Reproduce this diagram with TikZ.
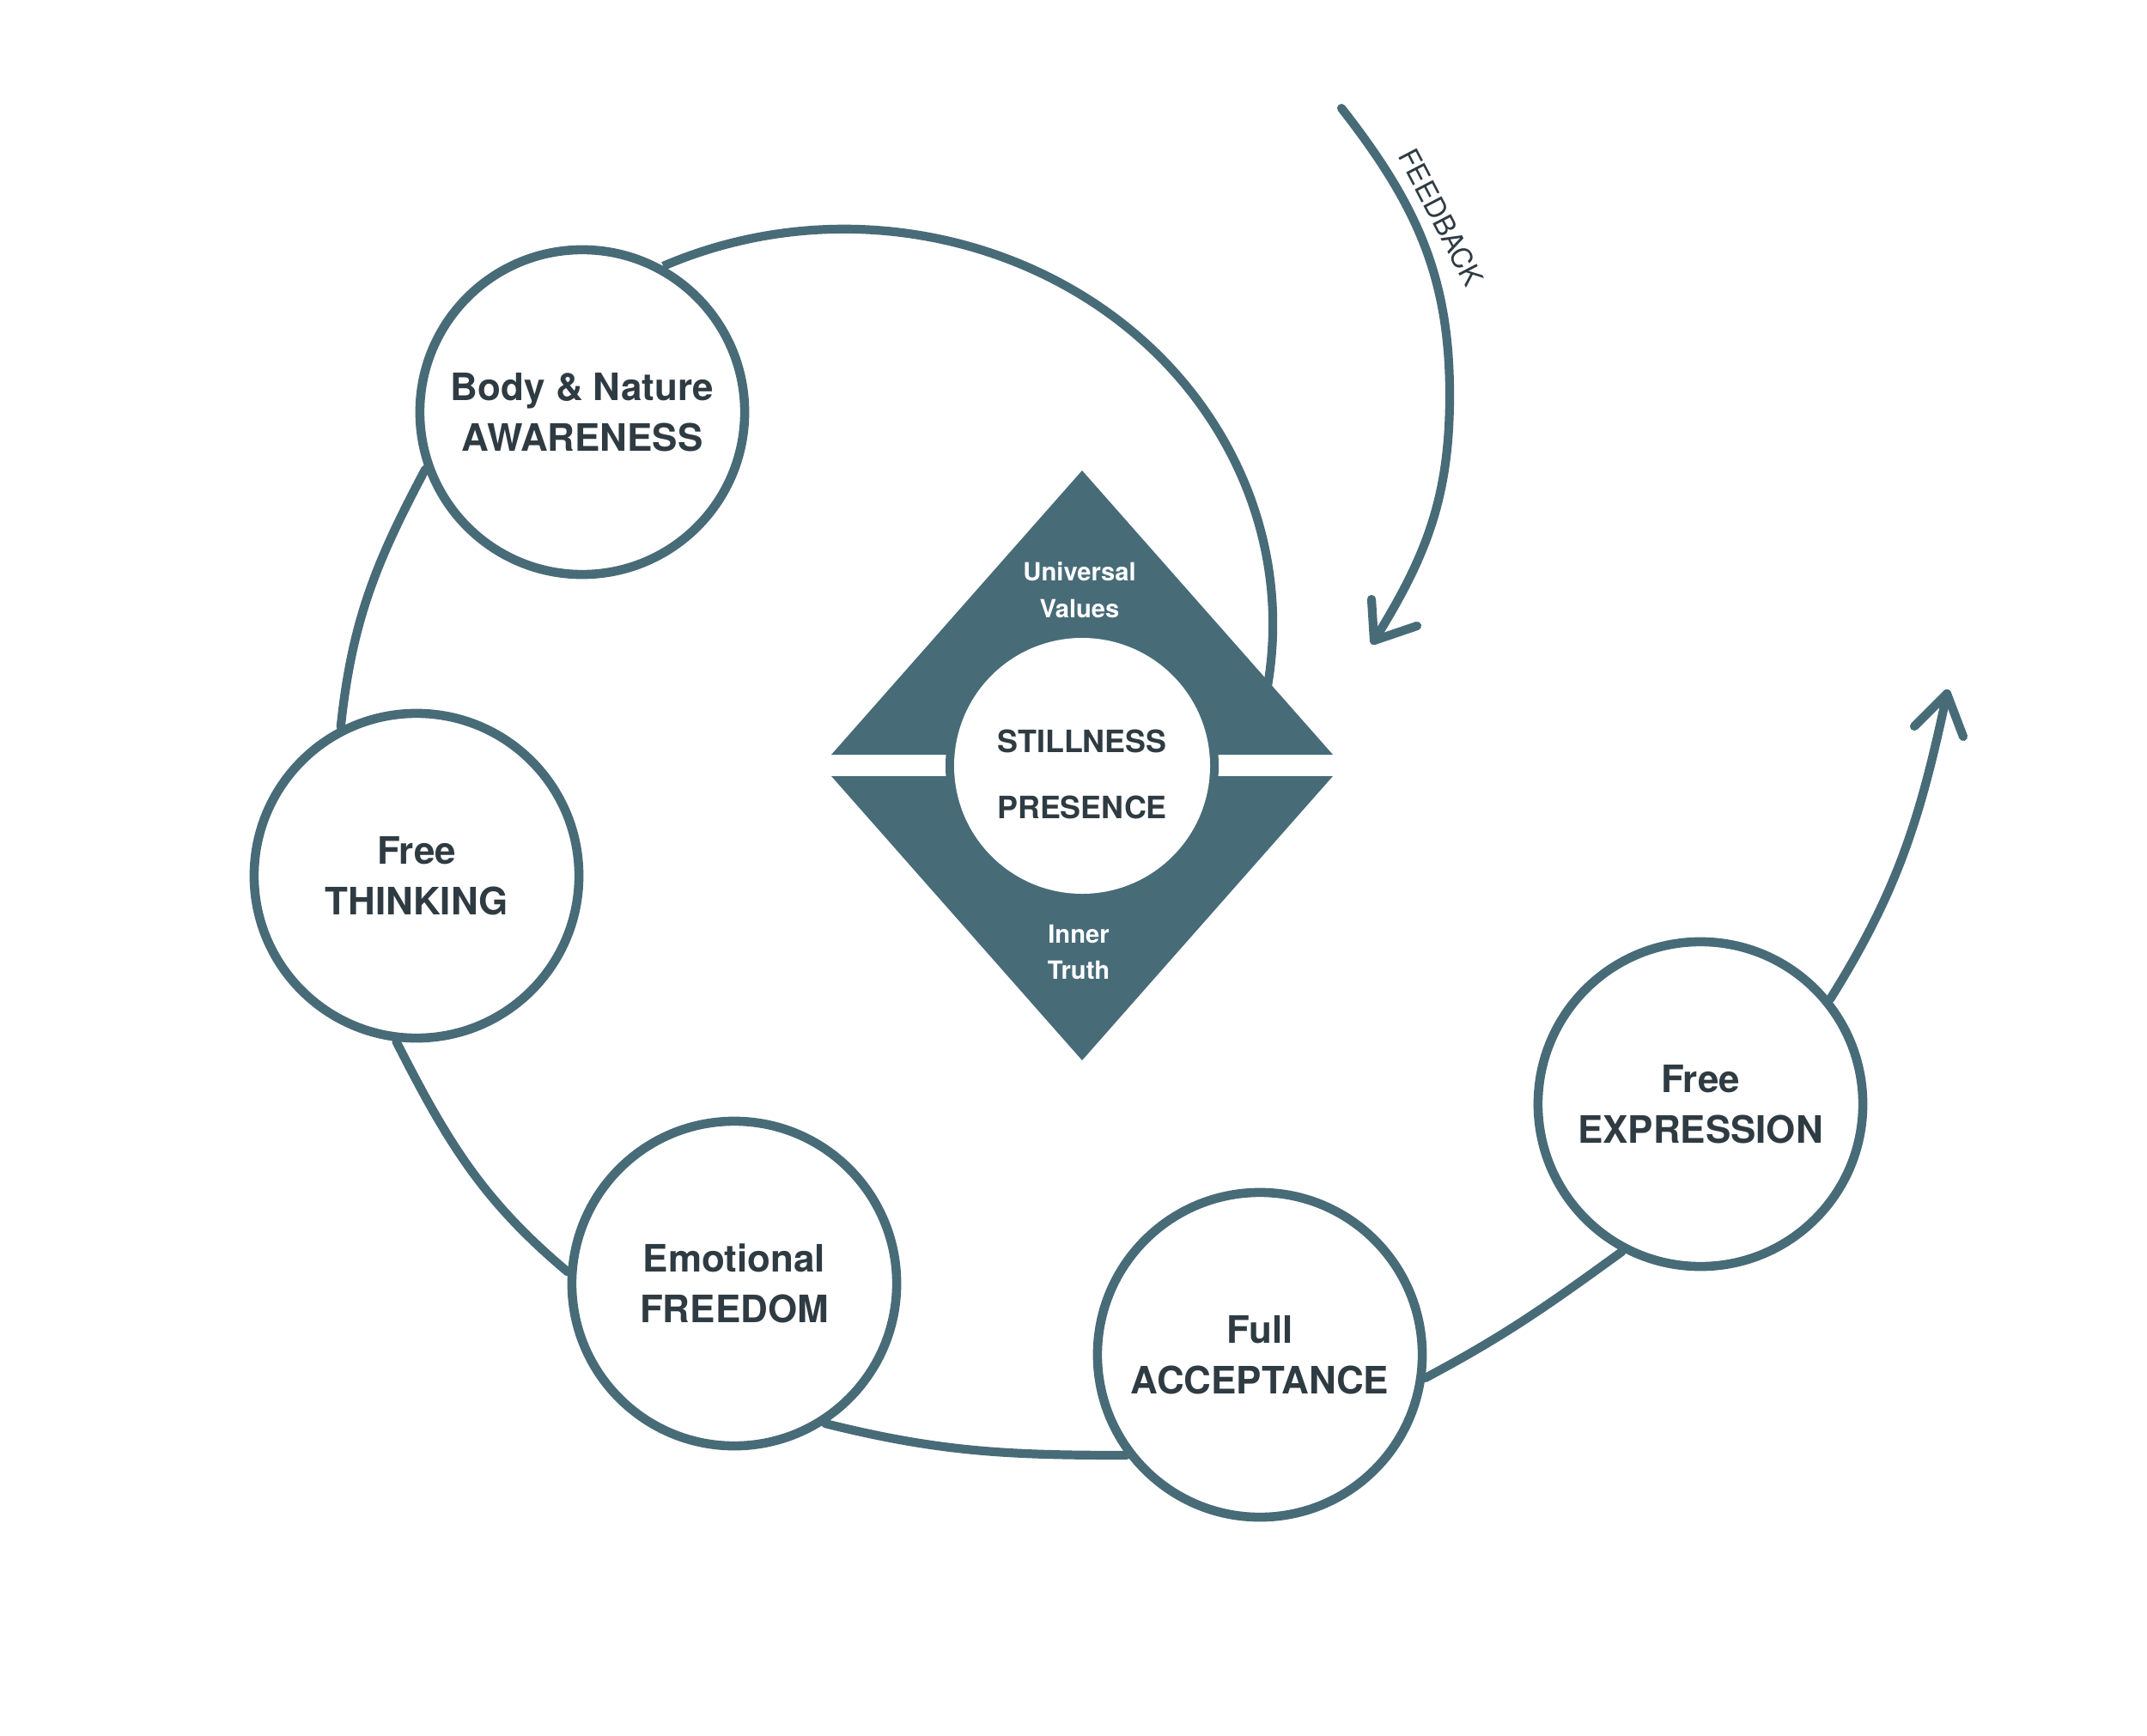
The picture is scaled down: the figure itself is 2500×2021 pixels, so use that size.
\documentclass[tikz,border=0pt]{standalone}
\usepackage{fontspec}
\setmainfont{TeX Gyre Heros}
\definecolor{sl}{RGB}{72,107,120}
\definecolor{tx}{RGB}{47,59,66}
\begin{document}
\begin{tikzpicture}[x=0.01cm,y=0.01cm,
  circ/.style={circle, draw=sl, line width=3pt, fill=white, minimum size=3.78cm, inner sep=0pt, align=center, font=\fontsize{12.5}{16.8}\selectfont\bfseries, text=tx},
  conn/.style={draw=sl, line width=2.9pt, line cap=round},
  tip/.style={draw=sl, line width=2.9pt, line cap=round, line join=round},
]
\useasboundingbox (0,0) rectangle (2500,-2021);

% circles
\node[circ] (aw) at (678,-480) {Body \& Nature\\AWARENESS};
\node[circ] (th) at (485,-1020) {Free\\THINKING};
\node[circ] (em) at (855,-1495) {Emotional\\FREEDOM};
\node[circ] (ac) at (1467,-1578) {Full\\ACCEPTANCE};
\node[circ] (ex) at (1980,-1286) {Free\\EXPRESSION};

% coordinates
\coordinate (xtip) at (2267,-808);
\coordinate (xa1) at (2229,-846);
\coordinate (xa2) at (2286,-858);
\coordinate (fbs) at (1562,-126);
\coordinate (fbtip) at (1600,-746);
\coordinate (fa1) at (1597,-698);
\coordinate (fa2) at (1650,-729);

% connectors
\draw[conn, line cap=butt] (aw.61) arc[start angle=115, end angle=-12, x radius=499, y radius=460];
\draw[conn] (aw.200) to[out=242,in=84] (th.117);
\draw[conn] (th.263) to[out=-63,in=140] (em.176);
\draw[conn] (em.303) to[out=-14,in=180] (ac.217);
\draw[conn] (ac.-8) to[out=28,in=216] (ex.242);
\draw[conn] (ex.39) to[out=58,in=-102] (xtip);
\draw[tip] (xa1) -- (xtip) -- (xa2);
\draw[conn] (fbs) to[out=-52,in=90] (1688,-460) to[out=-90,in=58] (fbtip);
\draw[tip] (fa1) -- (fbtip) -- (fa2);

% diamond
\fill[sl] (1260,-548) -- (968,-879) -- (1552,-879) -- cycle;
\fill[sl] (968,-904) -- (1552,-904) -- (1260,-1235) -- cycle;
\fill[sl] (1260,-892) circle (159);
\fill[white] (1260,-892) circle (149);

% texts
\node[font=\fontsize{8.3}{12.2}\selectfont\bfseries, text=white, align=center] (uv) at (1257,-687) {Universal\\Values};
\node[font=\fontsize{8.3}{12.2}\selectfont\bfseries, text=white, align=center] (it) at (1256,-1109) {Inner\\Truth};
\node[font=\fontsize{10.2}{21.9}\selectfont\bfseries, text=tx, align=center] (sp) at (1260,-902) {STILLNESS\\PRESENCE};
\node[rotate=-62.5, font=\fontsize{9.3}{11}\selectfont, text=tx] (fb) at (1678,-253) {FEEDBACK};
\end{tikzpicture}
\end{document}
